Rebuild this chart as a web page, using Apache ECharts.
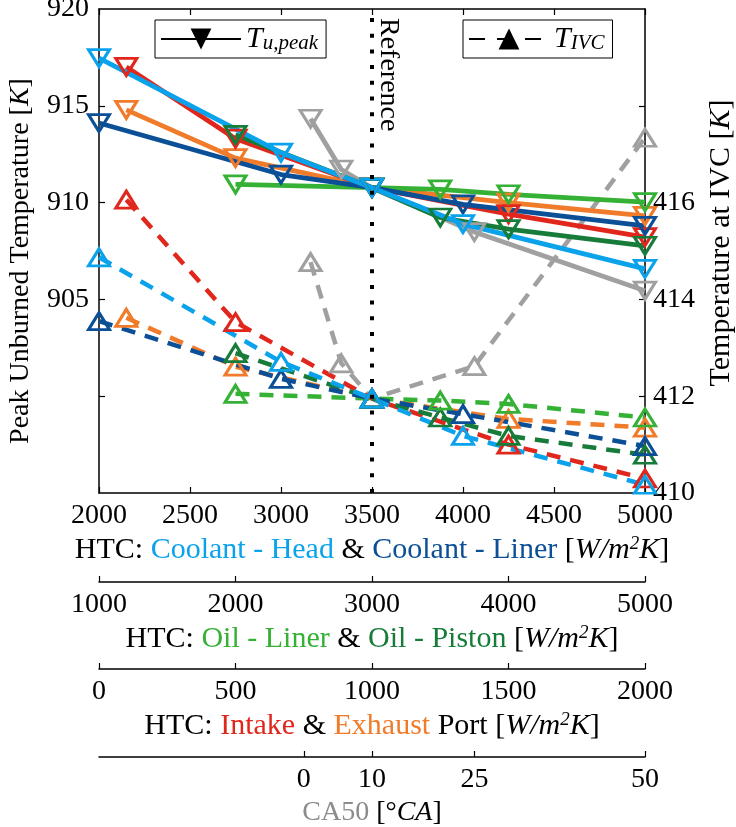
<!DOCTYPE html>
<html lang="en">
<head>
<meta charset="UTF-8">
<title>HTC sensitivity</title>
<script src="https://cdn.jsdelivr.net/npm/echarts@6/dist/echarts.min.js"></script>
<style>
    html, body { margin: 0; padding: 0; background: #fff; }
    #main { width: 736px; height: 827px; }
</style>
</head>
<body>
<div id="main"></div>
<script type="text/javascript">
    // ---- data ----
    // coolant side (main bottom axis)
    var coolantHTC = [2000, 3000, 3500, 4000, 5000];
    var headPeak = [917.46, 912.58, 910.77, 908.89, 906.58];
    var headIVC = [414.87, 412.71, 411.95, 411.18, 410.17];
    var linerPeak = [914.11, 911.45, 910.77, 909.91, 908.80];
    var linerIVC = [413.55, 412.36, 411.95, 411.63, 410.97];

    // oil side (second axis)
    var oilHTC = [2000, 3000, 3500, 4000, 5000];
    var oilLinerPeak = [910.94, 910.77, 910.68, 910.43, 910.02];
    var oilLinerIVC = [412.05, 411.95, 411.91, 411.84, 411.56];
    var oilPistonPeak = [913.50, 910.77, 909.23, 908.63, 907.77];
    var oilPistonIVC = [412.89, 411.95, 411.56, 411.18, 410.79];

    // ports (third axis)
    var portHTC = [100, 500, 1000, 1500, 2000];
    var intakePeak = [917.01, 913.30, 910.77, 909.40, 908.22];
    var intakeIVC = [416.06, 413.53, 411.95, 411.00, 410.30];
    var exhaustPeak = [914.79, 912.30, 910.77, 910.00, 909.31];
    var exhaustIVC = [413.62, 412.61, 411.95, 411.53, 411.35];

    // CA50 (fourth axis)
    var ca50 = [1, 5.5, 10, 25, 50];
    var ca50Peak = [914.33, 911.71, 910.77, 908.48, 905.45];
    var ca50IVC = [414.77, 412.68, 411.95, 412.62, 417.34];

    var referenceHTC = 3500;

    var ca50Ticks = [0, 10, 25, 50];
    var leftLabels = [905, 910, 915, 920];
    var leftTicks = [900, 905, 910, 915];
    var rightLabels = [410, 412, 414, 416];
    var rightTicks = [412, 414, 416, 418];

    // ---- style ----
    var FONT = 'Liberation Serif';
    var FS = 28;      // tick labels
    var NFS = 30;     // x axis names
    var C = {
        head: '#0aa3eb', liner: '#0b4f96', oilLiner: '#35b235', oilPiston: '#177c3a',
        intake: '#e1261c', exhaust: '#f07b2a', ca50: '#a0a0a0'
    };

    const myChart = echarts.init(document.getElementById('main'));

    function pairs(xs, ys) {
        return xs.map(function (x, i) { return [x, ys[i]]; });
    }

    function peakSeries(name, color, xi, xs, ys) {
        return {
            name: name, type: 'line', xAxisIndex: xi, yAxisIndex: 0, clip: false,
            data: pairs(xs, ys),
            symbol: 'triangle', symbolRotate: 180, symbolSize: [21, 17],
            lineStyle: {color: color, width: 4.8},
            itemStyle: {color: 'rgba(0,0,0,0)', borderColor: color, borderWidth: 3},
            emphasis: {disabled: true}
        };
    }

    function ivcSeries(name, color, xi, xs, ys) {
        return {
            name: name, type: 'line', xAxisIndex: xi, yAxisIndex: 1, clip: false,
            data: pairs(xs, ys),
            symbol: 'triangle', symbolSize: [21, 17],
            lineStyle: {color: color, width: 4.5, type: [14, 10]},
            itemStyle: {color: 'rgba(0,0,0,0)', borderColor: color, borderWidth: 3},
            emphasis: {disabled: true}
        };
    }

    var plain = function (v) { return String(v); };
    var blackLine = {color: '#000', width: 1.5};
    var tickStyle = {inside: true, length: 6, lineStyle: {color: '#000', width: 1.2}};
    var labelStyle = {fontFamily: FONT, fontSize: FS, color: '#000', formatter: plain};

    function nameStyle(size, extra, pad) {
        var rich = Object.assign({
            it: {fontFamily: FONT, fontSize: size, fontStyle: 'italic', color: '#000'},
            sup: {fontFamily: FONT, fontSize: Math.round(size * 0.64), fontStyle: 'italic', color: '#000', verticalAlign: 'top'}
        }, extra);
        var st = {fontFamily: FONT, fontSize: size, color: '#000', rich: rich};
        if (pad) st.padding = pad;
        return st;
    }
    function colored(color) {
        return {fontFamily: FONT, fontSize: NFS, color: color};
    }
    var unitText = '[{it|W/m}{sup|2}{it|K}]';
    var legendRich = {
        t: {fontFamily: FONT, fontSize: 30, fontStyle: 'italic', color: '#000'},
        s: {fontFamily: FONT, fontSize: 21, fontStyle: 'italic', color: '#000', verticalAlign: 'bottom'}
    };

    myChart.setOption({
        animation: false,
        grid: {left: 99, right: 91, top: 9, bottom: 334, outerBoundsMode: 'none'},
        legend: [{
            data: ['Tu'], left: 155, top: 20, padding: [4, 8, 4, 5],
            borderColor: '#000', borderWidth: 1, itemWidth: 80, itemHeight: 26, itemGap: 0,
            selectedMode: false,
            formatter: function () { return '{t|T}{s|u,peak}'; },
            textStyle: {rich: legendRich}
        }, {
            data: ['TIVC'], left: 463, top: 20, padding: [4, 8, 4, 5],
            borderColor: '#000', borderWidth: 1, itemWidth: 80, itemHeight: 26, itemGap: 0,
            selectedMode: false,
            formatter: function () { return '{t|T}{s|IVC}'; },
            textStyle: {rich: legendRich}
        }],
        xAxis: [{
            // coolant HTC
            type: 'value', position: 'bottom', min: 2000, max: 5000, interval: 500,
            axisLine: {show: true, onZero: false, lineStyle: blackLine},
            axisTick: tickStyle, splitLine: {show: false},
            axisLabel: Object.assign({margin: 9}, labelStyle),
            name: 'HTC: {lb|Coolant - Head} & {db|Coolant - Liner} ' + unitText,
            nameLocation: 'middle', nameGap: 39,
            nameTextStyle: nameStyle(NFS, {lb: colored(C.head), db: colored(C.liner)})
        }, {
            // mirrored top frame
            type: 'value', position: 'top', min: 2000, max: 5000, interval: 500,
            axisLine: {show: true, onZero: false, lineStyle: blackLine},
            axisTick: tickStyle, axisLabel: {show: false}, splitLine: {show: false}
        }, {
            // oil HTC
            type: 'value', position: 'bottom', offset: 89, min: 1000, max: 5000, interval: 1000,
            axisLine: {show: true, onZero: false, lineStyle: blackLine},
            axisTick: tickStyle, splitLine: {show: false},
            axisLabel: Object.assign({margin: 9}, labelStyle),
            name: 'HTC: {ol|Oil - Liner} & {op|Oil - Piston} ' + unitText,
            nameLocation: 'middle', nameGap: 39,
            nameTextStyle: nameStyle(NFS, {ol: colored(C.oilLiner), op: colored(C.oilPiston)})
        }, {
            // port HTC
            type: 'value', position: 'bottom', offset: 176, min: 0, max: 2000, interval: 500,
            axisLine: {show: true, onZero: false, lineStyle: blackLine},
            axisTick: tickStyle, splitLine: {show: false},
            axisLabel: Object.assign({margin: 9}, labelStyle),
            name: 'HTC: {in|Intake} & {ex|Exhaust} Port ' + unitText,
            nameLocation: 'middle', nameGap: 39,
            nameTextStyle: nameStyle(NFS, {in: colored(C.intake), ex: colored(C.exhaust)})
        }, {
            // CA50
            type: 'value', position: 'bottom', offset: 264, min: -30, max: 50,
            axisLine: {show: true, onZero: false, lineStyle: blackLine},
            axisTick: Object.assign({customValues: ca50Ticks}, tickStyle),
            splitLine: {show: false},
            axisLabel: Object.assign({margin: 9, customValues: ca50Ticks}, labelStyle),
            name: '{g|CA50} [°{it|CA}]',
            nameLocation: 'middle', nameGap: 36,
            nameTextStyle: nameStyle(FS, {g: {fontFamily: FONT, fontSize: FS, color: '#8c8c8c'}})
        }],
        yAxis: [{
            type: 'value', position: 'left', min: 895, max: 920, interval: 5,
            axisLine: {show: true, onZero: false, lineStyle: blackLine},
            axisTick: Object.assign({customValues: leftTicks}, tickStyle),
            axisLabel: Object.assign({margin: 10, customValues: leftLabels}, labelStyle),
            splitLine: {show: false},
            name: 'Peak Unburned Temperature [{it|K}]',
            nameLocation: 'middle', nameGap: 64, nameRotate: 90,
            nameTextStyle: nameStyle(FS, {}, [0, 20, 0, 0])
        }, {
            type: 'value', position: 'right', min: 410, max: 420, interval: 2,
            axisLine: {show: true, onZero: false, lineStyle: blackLine},
            axisTick: Object.assign({customValues: rightTicks}, tickStyle),
            axisLabel: Object.assign({margin: 8, customValues: rightLabels}, labelStyle),
            splitLine: {show: false},
            name: 'Temperature at IVC [{it|K}]',
            nameLocation: 'middle', nameGap: 54, nameRotate: 90,
            nameTextStyle: nameStyle(30, {}, [0, 0, 0, 16])
        }],
        graphic: [{
            type: 'text', x: 374, y: 18, rotation: -Math.PI / 2, z: 100,
            style: {text: 'Reference', font: FS + 'px "' + FONT + '"', fill: '#000', align: 'left', verticalAlign: 'bottom'}
        }],
        series: [
            peakSeries('ca50 peak', C.ca50, 4, ca50, ca50Peak),
            ivcSeries('ca50 ivc', C.ca50, 4, ca50, ca50IVC),
            {
                name: 'reference', type: 'line', xAxisIndex: 0, yAxisIndex: 0, data: [],
                markLine: {
                    silent: true, symbol: 'none', animation: false,
                    label: {show: false},
                    lineStyle: {color: '#000', width: 4, type: [4, 11.7], cap: 'butt'},
                    data: [{xAxis: referenceHTC}]
                }
            },
            peakSeries('exhaust peak', C.exhaust, 3, portHTC, exhaustPeak),
            ivcSeries('exhaust ivc', C.exhaust, 3, portHTC, exhaustIVC),
            peakSeries('intake peak', C.intake, 3, portHTC, intakePeak),
            ivcSeries('intake ivc', C.intake, 3, portHTC, intakeIVC),
            peakSeries('oil piston peak', C.oilPiston, 2, oilHTC, oilPistonPeak),
            ivcSeries('oil piston ivc', C.oilPiston, 2, oilHTC, oilPistonIVC),
            peakSeries('oil liner peak', C.oilLiner, 2, oilHTC, oilLinerPeak),
            ivcSeries('oil liner ivc', C.oilLiner, 2, oilHTC, oilLinerIVC),
            peakSeries('liner peak', C.liner, 0, coolantHTC, linerPeak),
            ivcSeries('liner ivc', C.liner, 0, coolantHTC, linerIVC),
            peakSeries('head peak', C.head, 0, coolantHTC, headPeak),
            ivcSeries('head ivc', C.head, 0, coolantHTC, headIVC),
            // legend-only entries
            {
                name: 'Tu', type: 'line', data: [], xAxisIndex: 0, yAxisIndex: 0,
                symbol: 'triangle', symbolRotate: 180,
                lineStyle: {color: '#000', width: 6}, itemStyle: {color: '#000'}
            },
            {
                name: 'TIVC', type: 'line', data: [], xAxisIndex: 0, yAxisIndex: 1,
                symbol: 'triangle',
                lineStyle: {color: '#000', width: 6, type: [16, 12]}, itemStyle: {color: '#000'}
            }
        ]
    });
</script>
</body>
</html>
